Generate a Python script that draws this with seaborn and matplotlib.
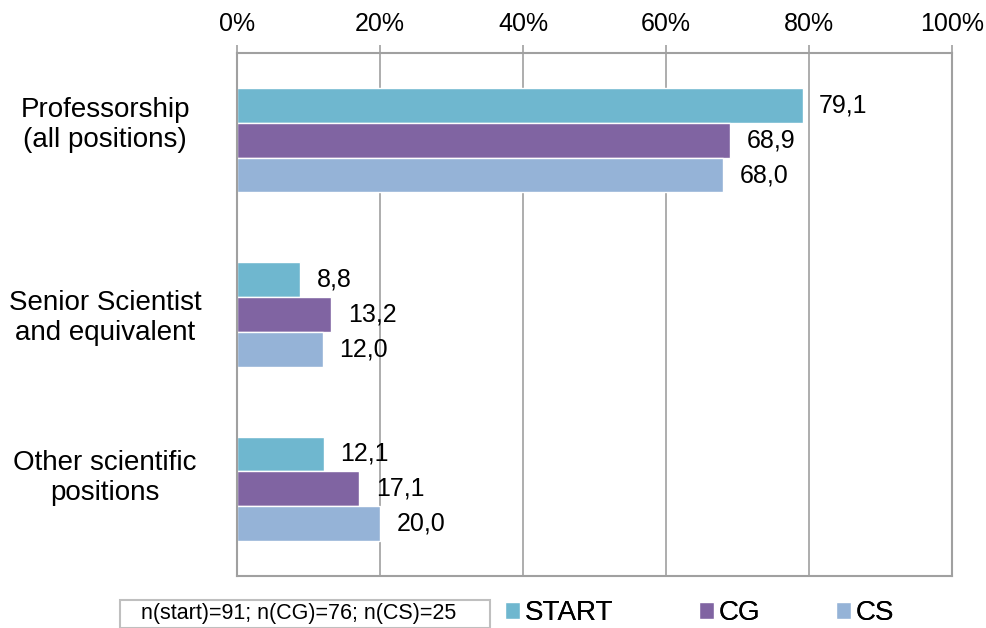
import numpy as np
import pandas as pd
import matplotlib
matplotlib.use("Agg")
import matplotlib.pyplot as plt
import matplotlib.transforms as mtransforms
from matplotlib.patches import Patch, Rectangle
import seaborn as sns

# data
categories = ["Professorship\n(all positions)", "Senior Scientist\nand equivalent", "Other scientific\npositions"]
groups = ["START", "CG", "CS"]
start_vals = [79.1, 8.8, 12.1]
cg_vals = [68.9, 13.2, 17.1]
cs_vals = [68.0, 12.0, 20.0]
x_ticks = [0, 20, 40, 60, 80, 100]
note = "n(start)=91; n(CG)=76; n(CS)=25"

colors = ["#6FB7CF", "#8064A2", "#95B3D7"]
grey = "#A0A0A0"

df = pd.DataFrame({
    "category": categories * 3,
    "group": np.repeat(groups, 3),
    "value": start_vals + cg_vals + cs_vals,
})

sns.set_theme(style="white")
plt.rcParams["font.family"] = ["Liberation Sans", "DejaVu Sans"]
plt.rcParams["text.color"] = "black"

fig = plt.figure(figsize=(9.87, 6.28), dpi=100)
ax = fig.add_axes([237 / 987, 1 - 576 / 628, 715 / 987, 523 / 628])

sns.barplot(data=df, y="category", x="value", hue="group", order=categories,
            hue_order=groups, palette=colors, orient="h", width=0.6,
            edgecolor="white", linewidth=1, saturation=1, ax=ax, legend=False)

for cont in ax.containers:
    labels = [f"{b.get_width():.1f}".replace(".", ",") for b in cont]
    ax.bar_label(cont, labels=labels, padding=12, fontsize=18, color="black")

ax.set_xlim(0, 100)
ax.set_ylim(2.5, -0.5)
ax.set_xticks(x_ticks)
ax.set_xticklabels([f"{t}%" for t in x_ticks], fontsize=18)
ax.xaxis.tick_top()
ax.tick_params(axis="x", direction="out", length=6, color=grey, width=1.2, pad=6,
               labelcolor="black")
ax.grid(axis="x", color=grey, linewidth=1.2)
ax.set_axisbelow(True)
ax.set_xlabel("")
ax.set_ylabel("")

ax.set_yticks(range(3))
ax.set_yticklabels(categories, fontsize=20, ha="center", multialignment="center")
ax.tick_params(axis="y", length=0, pad=95, labelcolor="black")
ax.set_yticks([-0.5, 0.5, 1.5, 2.5], minor=True)
ax.tick_params(axis="y", which="minor", length=4, color=grey, width=1.2, direction="out")

# the category labels sit a little above the group centres in the original
nudges = [20, 2, 16]
for lab, dy in zip(ax.get_yticklabels(), nudges):
    lab.set_transform(lab.get_transform() + mtransforms.ScaledTranslation(0, dy / 100, fig.dpi_scale_trans))

for s in ax.spines.values():
    s.set_color(grey)
    s.set_linewidth(1.5)

# note box under the chart
fig.add_artist(Rectangle((120 / 987, 1 - 628 / 628), 370 / 987, 28 / 628, transform=fig.transFigure,
                         facecolor="white", edgecolor="#BFBFBF", linewidth=1.5))
fig.text(141 / 987, 1 - 614 / 628, note, fontsize=15.5, va="center", ha="left", color="black")

# legend entries are not evenly spaced in the reference, so one legend each
legend_x = [505, 699, 836]
for name, c, lx in zip(groups, colors, legend_x):
    leg = fig.legend([Patch(facecolor=c, edgecolor="white")], [name], loc="center left",
                     bbox_to_anchor=(lx / 987, 1 - 613 / 628), frameon=False, fontsize=20,
                     handlelength=0.55, handleheight=0.55, handletextpad=0.15, borderpad=0,
                     borderaxespad=0)
    fig.add_artist(leg)

fig.savefig("out.png", dpi=100)
